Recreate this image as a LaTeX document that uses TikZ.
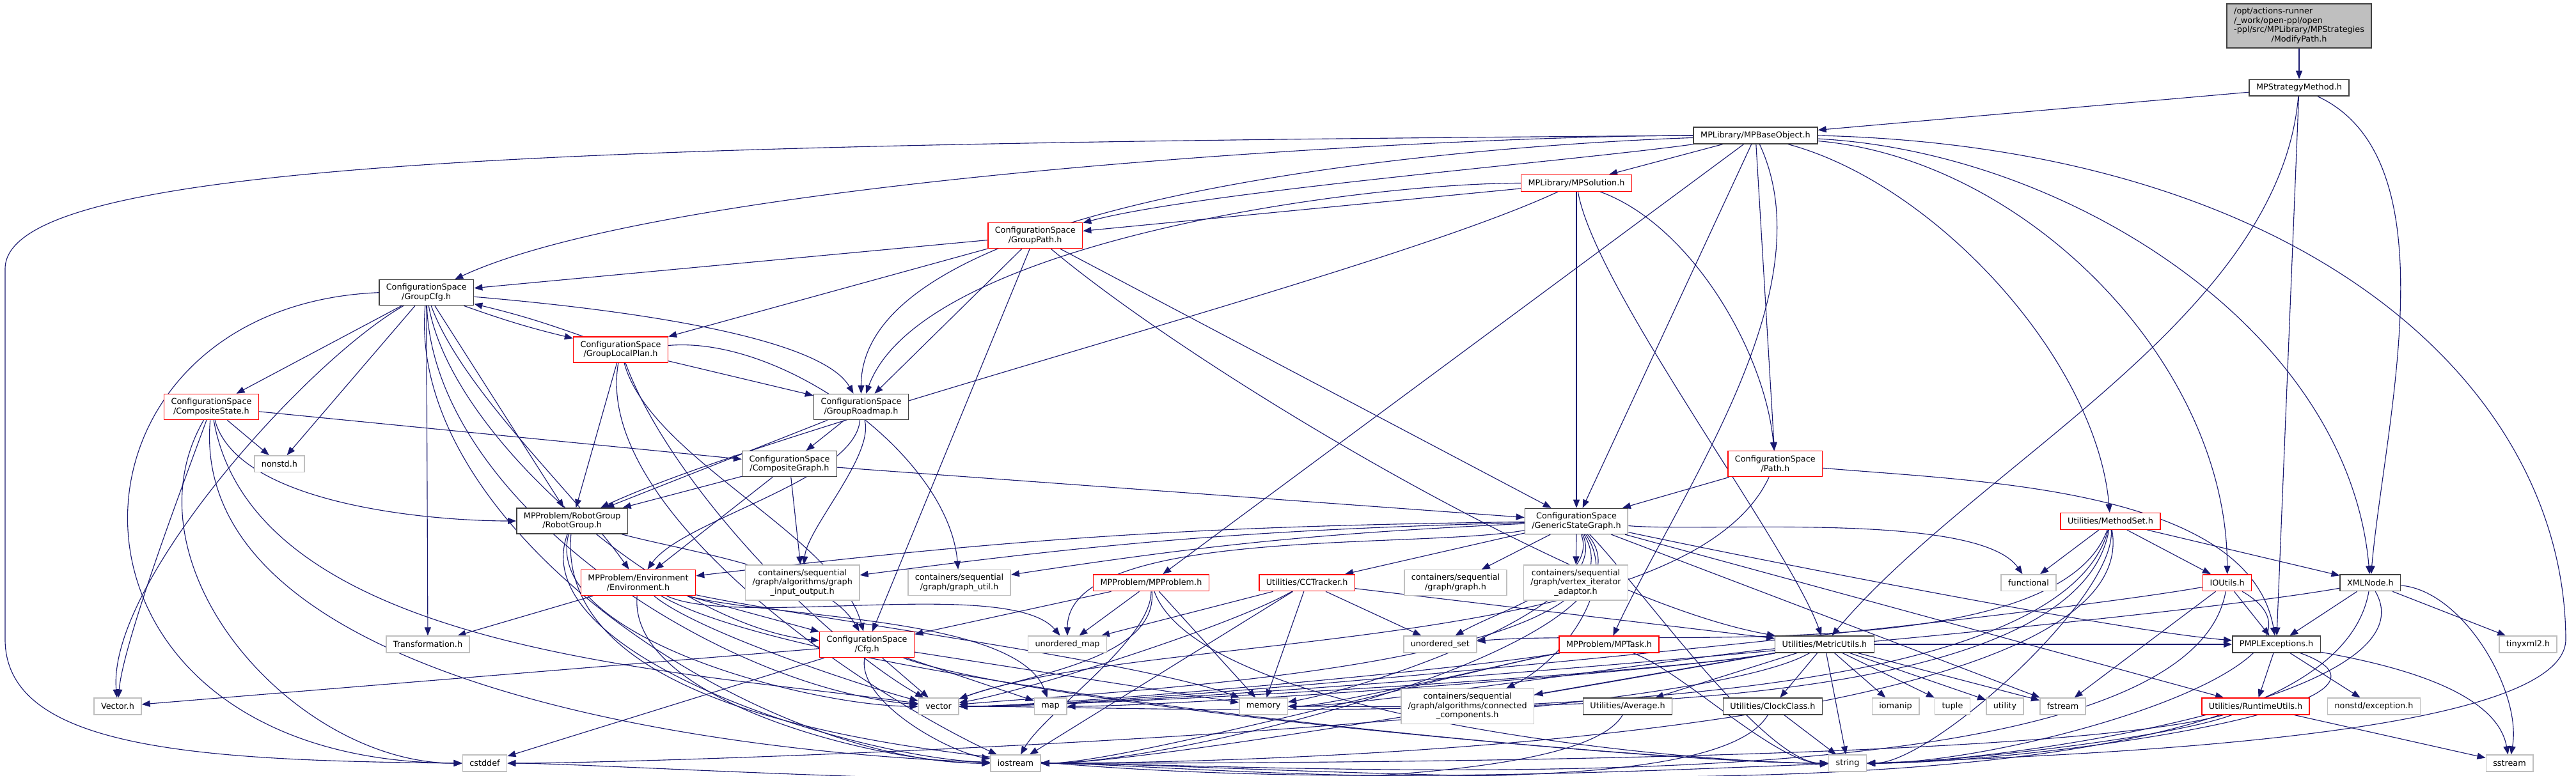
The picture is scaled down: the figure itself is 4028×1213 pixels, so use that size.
\documentclass[tikz,border=0pt]{standalone}
\usepackage{fontspec}
\setmainfont{DejaVu Sans}
\usetikzlibrary{arrows.meta,backgrounds}
\definecolor{edgeblue}{RGB}{25,25,112}
\definecolor{sysgray}{RGB}{191,191,191}
\definecolor{docgray}{RGB}{64,64,64}
\tikzset{
  hdr/.style={draw=#1,fill=white,line width=0.375pt,align=center,inner xsep=2.75pt,inner ysep=0pt,
    minimum height=6.425pt,font=\fontsize{3.2}{3.625}\selectfont},
  hdr/.default=docgray,
  hdrcut/.style={hdr=red},
  sysinc/.style={hdr=sysgray},
  mainfile/.style={hdr=docgray,fill=sysgray,minimum height=17.25pt},
  twoline/.style={minimum height=10pt},
  threeline/.style={minimum height=13.75pt},
  inc/.style={-{Triangle[length=3.25pt,width=2.5pt]},line width=0.28pt,draw=edgeblue},
}

\begin{document}
\begin{tikzpicture}[x=0.25pt,y=0.25pt]
  \useasboundingbox (0,0) rectangle (4028,-1213);
  \begin{scope}[on background layer]
    \fill[white] (0,0) rectangle (4028,-1213);
  \end{scope}
  % headers
  \node[mainfile] (modpath) at (3595,-40.5) {\begin{tabular}{@{}l@{}}/opt/actions-runner\\/\_work/open-ppl/open\\-ppl/src/MPLibrary/MPStrategies\\\multicolumn{1}{@{}c@{}}{/ModifyPath.h}\end{tabular}};
  \node[hdr] (strat) at (3595,-137.3) {MPStrategyMethod.h};
  \node[hdr] (base) at (2745,-212) {MPLibrary/MPBaseObject.h};
  \node[hdrcut] (sol) at (2465,-286.5) {MPLibrary/MPSolution.h};
  \node[hdrcut,twoline] (gpath) at (1618.7,-368.6) {ConfigurationSpace\\/GroupPath.h};
  \node[hdr,twoline] (gcfg) at (666.7,-457.7) {ConfigurationSpace\\/GroupCfg.h};
  \node[hdrcut,twoline] (glp) at (970.5,-547) {ConfigurationSpace\\/GroupLocalPlan.h};
  \node[hdrcut,twoline] (cstate) at (330.5,-636.5) {ConfigurationSpace\\/CompositeState.h};
  \node[hdr,twoline] (groadmap) at (1346.5,-636.5) {ConfigurationSpace\\/GroupRoadmap.h};
  \node[hdr,twoline] (cgraph) at (1234.5,-725.7) {ConfigurationSpace\\/CompositeGraph.h};
  \node[hdrcut,twoline] (path) at (2775.8,-725.7) {ConfigurationSpace\\/Path.h};
  \node[sysinc] (nonstd) at (437,-725.7) {nonstd.h};
  \node[hdr,twoline] (rgroup) at (894.7,-815) {MPProblem/RobotGroup\\/RobotGroup.h};
  \node[hdr,twoline] (gsg) at (2465,-815.4) {ConfigurationSpace\\/GenericStateGraph.h};
  \node[hdrcut] (mset) at (3300,-815.4) {Utilities/MethodSet.h};
  \node[hdrcut,twoline] (env) at (998,-911.5) {MPProblem/Environment\\/Environment.h};
  \node[sysinc,threeline] (gio) at (1254.7,-911.6) {containers/sequential\\/graph/algorithms/graph\\\_input\_output.h};
  \node[sysinc,twoline] (gutil) at (1500,-911.5) {containers/sequential\\/graph/graph\_util.h};
  \node[hdrcut] (mpprob) at (1800,-911.7) {MPProblem/MPProblem.h};
  \node[hdrcut] (cct) at (2043.6,-911.7) {Utilities/CCTracker.h};
  \node[sysinc,twoline] (graph) at (2276,-911.5) {containers/sequential\\/graph/graph.h};
  \node[sysinc,threeline] (via) at (2464,-911.6) {containers/sequential\\/graph/vertex\_iterator\\\_adaptor.h};
  \node[sysinc] (func) at (3172,-911.7) {functional};
  \node[hdrcut] (ioutils) at (3482.6,-911.7) {IOUtils.h};
  \node[hdr] (xml) at (3706.4,-911.7) {XMLNode.h};
  \node[sysinc] (trans) at (669,-1008) {Transformation.h};
  \node[hdrcut,twoline] (cfg) at (1355.6,-1008.5) {ConfigurationSpace\\/Cfg.h};
  \node[sysinc] (umap) at (1669,-1008) {unordered\_map};
  \node[sysinc] (uset) at (2251.8,-1008) {unordered\_set};
  \node[hdrcut] (task) at (2516,-1008) {MPProblem/MPTask.h};
  \node[hdr] (metric) at (2853,-1008) {Utilities/MetricUtils.h};
  \node[hdr] (pmpl) at (3559.5,-1008) {PMPLExceptions.h};
  \node[sysinc] (tinyxml) at (3953,-1008) {tinyxml2.h};
  \node[sysinc] (vec) at (184,-1105) {Vector.h};
  \node[sysinc] (vector) at (1467.6,-1105) {vector};
  \node[sysinc] (map) at (1642.6,-1105) {map};
  \node[sysinc] (memory) at (1975.6,-1105) {memory};
  \node[sysinc,threeline] (cc) at (2294.7,-1104.8) {containers/sequential\\/graph/algorithms/connected\\\_components.h};
  \node[hdr] (avg) at (2545,-1105) {Utilities/Average.h};
  \node[hdr] (clock) at (2772,-1105) {Utilities/ClockClass.h};
  \node[sysinc] (iomanip) at (2964,-1105) {iomanip};
  \node[sysinc] (tuple) at (3053,-1105) {tuple};
  \node[sysinc] (utility) at (3135,-1105) {utility};
  \node[sysinc] (fstream) at (3225.5,-1105) {fstream};
  \node[hdrcut] (rutils) at (3527,-1105) {Utilities/RuntimeUtils.h};
  \node[sysinc] (nexc) at (3712,-1105) {nonstd/exception.h};
  \node[sysinc] (cstddef) at (758,-1194) {cstddef};
  \node[sysinc] (iostream) at (1588,-1194) {iostream};
  \node[sysinc] (string) at (2889,-1194) {string};
  \node[sysinc] (sstream) at (3924,-1194) {sstream};
  % includes
  \begin{scope}[on background layer]
    \foreach \a/\b in {modpath/strat, strat/base, strat/pmpl, base/sol, base/mpprob, base/gsg, base/path,
      sol/gsg, sol/gpath, gpath/gcfg, gpath/glp, gpath/groadmap, gpath/cfg, gpath/gsg,
      gcfg/cstate, gcfg/nonstd, gcfg/rgroup, gcfg/trans, glp/groadmap, glp/rgroup, cstate/nonstd,
      cstate/cgraph, groadmap/cgraph, groadmap/rgroup, cgraph/rgroup, cgraph/env, cgraph/gio,
      cgraph/gsg, env/trans, env/cfg, path/gsg, gsg/cct, gsg/graph, gsg/via, gsg/rutils, gsg/fstream,
      mpprob/cfg, mpprob/umap, mpprob/memory, cct/uset, cct/metric, cct/umap, cct/memory, cct/iostream,
      cfg/vector, cfg/map, cfg/cstddef, cfg/memory, cfg/vec, metric/cc, metric/avg, metric/clock,
      metric/string, metric/iomanip, metric/tuple, metric/utility, metric/fstream, metric/pmpl,
      mset/func, mset/ioutils, mset/xml, ioutils/pmpl, ioutils/fstream, xml/pmpl, xml/tinyxml,
      pmpl/rutils, pmpl/nexc, rutils/sstream, clock/string}
      \draw[inc] (\a) -- (\b);
    \foreach \a/\b/\o/\i/\l in {base/gcfg/180/25/0.5, base/groadmap/182/90/0.6, base/gpath/188/15/0.5,
      base/mset/-15/95/0.8, base/ioutils/-5/90/0.9, base/xml/-3/95/0.9, base/task/-65/65/0.8,
      sol/groadmap/180/70/0.6, sol/rgroup/205/25/0.5, sol/path/-20/95/0.8, sol/metric/-80/110/0.5,
      strat/metric/-95/50/0.8, strat/xml/-25/85/0.8, gpath/metric/-40/170/0.6,
      gcfg/groadmap/-5/120/0.5, gcfg/vec/-150/95/0.6, gcfg/iostream/-95/180/0.8,
      gcfg/vector/-88/175/0.8, gcfg/cfg/-80/175/0.7, gcfg/env/-70/125/0.7,
      glp/cfg/-75/105/0.7, glp/vector/-70/150/0.7, glp/iostream/-100/155/0.7, glp/gutil/5/95/0.8,
      cstate/rgroup/-75/180/0.7, cstate/vec/-110/85/0.5, cstate/cstddef/-120/180/1,
      cstate/iostream/-95/178/0.8, cstate/vector/-80/172/0.8,
      groadmap/env/-95/55/0.6, groadmap/gio/-75/85/0.6,
      rgroup/cfg/-15/120/0.7, rgroup/vector/-105/180/0.7, rgroup/iostream/-110/178/0.7,
      rgroup/string/-95/182/0.6,
      env/iostream/-95/180/0.7, env/umap/-25/130/0.5, env/string/-30/180/0.4,
      env/vector/-40/165/0.5, env/map/-15/110/0.6, env/memory/-12/160/0.5,
      cfg/string/-20/180/0.4, cfg/iostream/-100/170/0.7,
      path/pmpl/-5/100/0.8, path/vector/-115/20/0.6,
      gsg/umap/190/90/0.6, gsg/uset/-70/30/0.8, gsg/cc/-55/25/0.9, gsg/vector/-60/5/0.6,
      gsg/iostream/-50/0/0.6, gsg/string/-45/180/0.5, gsg/memory/-65/10/0.6,
      gsg/func/-5/125/0.5, gsg/pmpl/-12/175/0.5,
      mpprob/vector/-85/20/0.8, mpprob/iostream/-90/60/0.6, mpprob/string/-70/180/0.5,
      cct/vector/-150/10/0.5,
      mset/memory/-100/0/0.6, mset/string/-85/0/0.5, mset/iostream/-80/0/0.5,
      mset/uset/-110/5/0.6, mset/vector/-105/0/0.5,
      ioutils/iostream/-100/0/0.5, ioutils/string/-30/0/0.9, ioutils/vector/190/0/0.4,
      xml/string/-60/0/0.6, xml/iostream/-100/0/0.5, xml/vector/190/0/0.4, xml/sstream/-5/80/0.8,
      pmpl/sstream/-10/100/0.8, pmpl/string/-20/0/0.9,
      rutils/string/-160/0/0.5, rutils/iostream/-165/0/0.4, clock/iostream/-120/0/0.4,
      avg/cstddef/-120/0/0.3, metric/cstddef/-150/0/0.3,
      task/vector/190/0/0.4, task/memory/190/0/0.4, task/iostream/-170/0/0.4, task/string/-20/180/0.6,
      metric/vector/190/0/0.4, metric/memory/185/0/0.4, metric/map/190/0/0.4, metric/iostream/-170/0/0.4}
      \draw[inc] (\a) to[out=\o,in=\i,looseness=\l] (\b);
    \draw[inc] (gcfg) to[bend right=3] (glp);
    \draw[inc] (glp) to[bend right=3] (gcfg);
    \foreach \b in {gio,env,gutil} \draw[inc] (gsg) to[bend right=3] (\b);
    % long detours
    \draw[inc] (base.west) .. controls (900,-225) and (10,-250) .. (8,-420) -- (8,-1000)
      .. controls (8,-1170) and (300,-1190) .. (cstddef.west);
    \draw[inc] (gcfg.west) .. controls (60,-480) and (40,-1190) .. (cstddef.west);
    \draw[inc] (base.east) .. controls (3600,-230) and (4010,-600) .. (4012,-1000)
      .. controls (4012,-1150) and (3300,-1180) .. (string.east);
  \end{scope}
\end{tikzpicture}
\end{document}
